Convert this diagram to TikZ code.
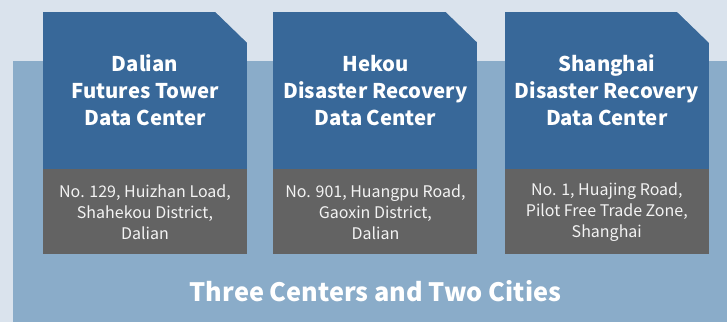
\documentclass[tikz,border=0pt]{standalone}
\usepackage{fontspec}
\setmainfont{Noto Sans CJK SC}
\usetikzlibrary{positioning}
\definecolor{pagebg}{HTML}{DAE3ED}
\definecolor{panelblue}{HTML}{8AACC9}
\definecolor{cardblue}{HTML}{386899}
\definecolor{addrgray}{HTML}{636363}
\tikzset{
  centername/.style={rectangle, fill=cardblue, text=white, align=center, inner sep=0pt,
    minimum width=204pt, minimum height=157pt,
    font=\fontsize{20.3}{27}\selectfont\bfseries},
  address/.style={rectangle, fill=addrgray, text=white!92!addrgray, align=center,
    inner sep=0pt, minimum width=204pt, minimum height=85pt,
    font=\fontsize{16}{21}\selectfont}
}

\begin{document}
\begin{tikzpicture}[x=1pt,y=-1pt]
  % background and panel
  \fill[pagebg] (0,0) rectangle (727,322);
  \useasboundingbox (0,0) rectangle (727,322);
  \fill[panelblue] (13,61) rectangle (727,322);
  % data centers
  \node[centername] (dalian) at (145,90.5) {Dalian\\Futures Tower\\Data Center};
  \node[centername, right=26pt of dalian] (hekou) {Hekou\\Disaster Recovery\\Data Center};
  \node[centername, right=27pt of hekou] (shanghai) {Shanghai\\Disaster Recovery\\Data Center};
  % cut corners
  \foreach \c in {dalian,hekou,shanghai}
    \fill[pagebg] (\c.north east) -- ++(-32,0) -- ++(32,31) -- cycle;
  % addresses
  \node[address, below=0pt of dalian] (dalianaddr)
    {No. 129, Huizhan Load,\\Shahekou District,\\Dalian};
  \node[address, below=0pt of hekou] (hekouaddr)
    {No. 901, Huangpu Road,\\Gaoxin District,\\Dalian};
  \node[address, below=0pt of shanghai] (shanghaiaddr)
    {No. 1, Huajing Road,\\Pilot Free Trade Zone,\\Shanghai};
  % caption
  \node[text=white, font=\fontsize{25.3}{30}\selectfont\bfseries, below=22pt of hekouaddr]
    (caption) {Three Centers and Two Cities};
\end{tikzpicture}
\end{document}
